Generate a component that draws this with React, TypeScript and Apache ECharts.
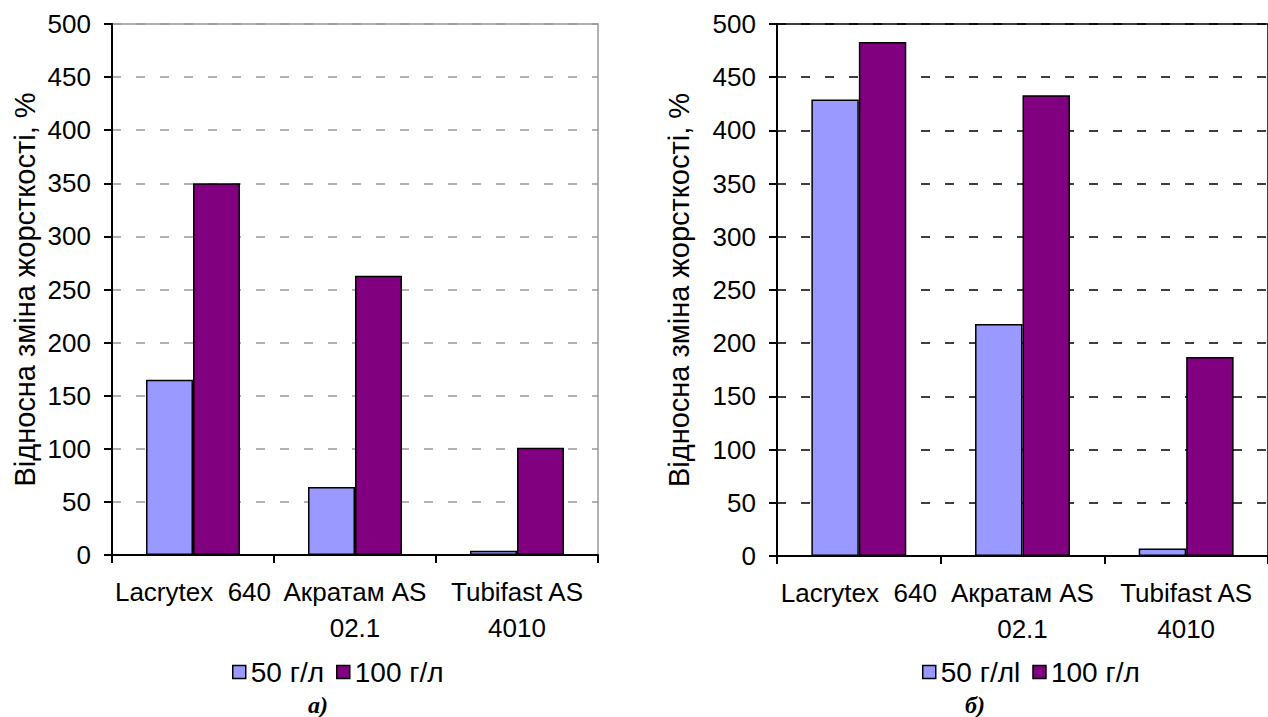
import React, { useEffect, useRef } from 'react';
import * as echarts from 'echarts';

const categories = ['Lacrytex  640', 'Акратам AS\n02.1', 'Tubifast AS\n4010'];
const yMin = 0;
const yMax = 500;
const yInterval = 50;
const namesA = ['50 г/л', '100 г/л'];
const namesB = ['50 г/лl', '100 г/л'];
const valuesA50 = [165, 64, 4];
const valuesA100 = [350, 263, 101];
const valuesB50 = [429, 218, 7];
const valuesB100 = [483, 433, 187];
const captions = ['а)', 'б)'];
const yTitle = 'Відносна зміна жорсткості, %';

const LIGHT = '#9999FF';
const DARK = '#800080';
const FONT = '"Liberation Sans", Arial, sans-serif';
const SERIF = '"Liberation Serif", "Times New Roman", serif';

export default function App() {
  const ref = useRef<HTMLDivElement>(null);
  useEffect(() => {
    document.body.style.margin = '0';
    if (!ref.current) return;
    const chart = echarts.init(ref.current, null, { renderer: 'svg' });

    const makeX = (gridIndex: number) => ({
      type: 'category',
      gridIndex,
      data: categories,
      axisLine: { show: true, lineStyle: { color: '#000', width: 2 } },
      axisTick: { show: true, alignWithLabel: false, inside: false, length: 8, lineStyle: { color: '#000', width: 2 } },
      axisLabel: { interval: 0, color: '#000', fontSize: 26, fontFamily: FONT, lineHeight: 36, margin: 19 },
    });
    const makeY = (gridIndex: number, gridColor: string, nameGap: number) => ({
      type: 'value',
      gridIndex,
      min: yMin,
      max: yMax,
      interval: yInterval,
      name: yTitle,
      nameLocation: 'middle',
      nameGap,
      nameTextStyle: { fontSize: 29, fontFamily: FONT, color: '#000' },
      axisLine: { show: true, lineStyle: { color: '#000', width: 2 } },
      axisTick: { show: true, inside: false, length: 8, lineStyle: { color: '#000', width: 2 } },
      axisLabel: { color: '#000', fontSize: 26, fontFamily: FONT, margin: 21 },
      splitLine: { show: true, lineStyle: { color: gridColor, width: 1.5, type: [9, 15] } },
    });
    const bar = (name: string, data: number[], color: string, idx: number) => ({
      type: 'bar',
      name,
      data,
      xAxisIndex: idx,
      yAxisIndex: idx,
      barGap: '0%',
      barCategoryGap: '42%',
      itemStyle: { color, borderColor: '#000', borderWidth: 1.5 },
    });
    const legendText = { fontSize: 28, fontFamily: FONT, color: '#000', lineHeight: 28 };
    const legend = (data: string[], left: number) => ({
      data: data.map((name) => ({ name, textStyle: legendText })),
      left, top: 658, padding: 0, icon: 'rect', itemWidth: 13, itemHeight: 13, itemGap: 12,
      itemStyle: { borderColor: '#000', borderWidth: 1.5 },
      textStyle: legendText,
    });
    const caption = (text: string, x: number) => ({
      type: 'text', x, y: 705,
      style: { text, fontSize: 24, fontFamily: SERIF, fontWeight: 'bold', fontStyle: 'italic', fill: '#000', align: 'center', verticalAlign: 'middle' },
    });

    chart.setOption({
      animation: false,
      grid: [
        { left: 112, top: 24, right: 1268 - 598, bottom: 717 - 555, show: true, borderColor: '#999', borderWidth: 1.5, backgroundColor: 'transparent' },
        { left: 777, top: 24, width: 500, bottom: 717 - 556, show: true, borderColor: '#000', borderWidth: 1.5, backgroundColor: 'transparent' },
      ],
      xAxis: [makeX(0), makeX(1)],
      yAxis: [makeY(0, '#999', 73), makeY(1, '#000', 84)],
      legend: [legend(namesA, 232), legend(namesB, 922)],
      series: [
        bar(namesA[0], valuesA50, LIGHT, 0),
        bar(namesA[1], valuesA100, DARK, 0),
        bar(namesB[0], valuesB50, LIGHT, 1),
        bar(namesB[1], valuesB100, DARK, 1),
      ],
      graphic: [caption(captions[0], 318), caption(captions[1], 975)],
    });
    return () => chart.dispose();
  }, []);
  return <div ref={ref} style={{ width: 1268, height: 717 }} />;
}
